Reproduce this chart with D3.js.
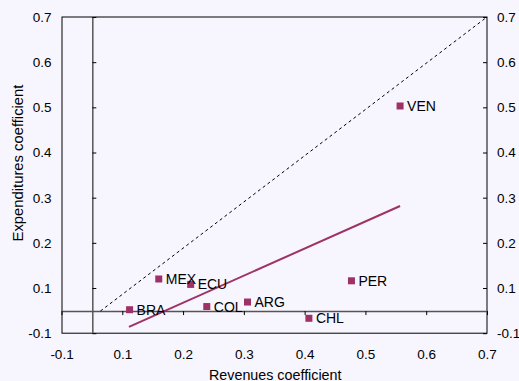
<!DOCTYPE html>
<html>
<head>
<meta charset="utf-8">
<script src="https://cdn.jsdelivr.net/npm/d3@7"></script>
<style>
  html, body { margin: 0; padding: 0; background: #f7f5fd; }
  svg { display: block; font-family: "Liberation Sans", Arial, sans-serif; }
</style>
</head>
<body>
<svg id="chart" width="519" height="381"></svg>
<script>
// ---- data ----
const countries = ["VEN", "BRA", "MEX", "ECU", "COL", "ARG", "CHL", "PER"];
const revenues = [0.557, 0.112, 0.160, 0.2125, 0.239, 0.306, 0.407, 0.477];
const expenditures = [0.503, 0.052, 0.120, 0.108, 0.059, 0.069, 0.033, 0.116];
const tickValues = [0, 0.1, 0.2, 0.3, 0.4, 0.5, 0.6, 0.7];
const tickLabels = ["-0.1", "0.1", "0.2", "0.3", "0.4", "0.5", "0.6", "0.7"];
const fitX = [0.111, 0.557];
const fitY = [0.014, 0.2816];
const diagX = [0.064, 0.7];
const diagY = [0.049, 0.7];
const crossX = 0.0507;
const crossY = 0.049;
const xTitle = "Revenues coefficient";
const yTitle = "Expenditures coefficient";

// ---- layout ----
const L = 61.5, R = 487, T = 17, B = 333.2;
const color = "#9e3266";
const svg = d3.select("#chart");
const x = d3.scaleLinear().domain([0, 0.7]).range([L, R]);
const y = d3.scaleLinear().domain([0, 0.7]).range([B, T]);
const fmt = (d, i) => tickLabels[i];

// frame
svg.append("rect").attr("x", 62).attr("y", T).attr("width", R - 62).attr("height", B - T)
  .attr("fill", "none").attr("stroke", "#000").attr("stroke-width", 1);

// labels axes (no ticks)
function styleLabels(g) {
  g.select(".domain").remove();
  g.selectAll("text").attr("font-size", 13.5).attr("fill", "#000")
    .attr("font-family", "'Liberation Sans', Arial, sans-serif");
}
svg.append("g").attr("transform", `translate(0,${B})`)
  .call(d3.axisBottom(x).tickValues(tickValues).tickFormat(fmt).tickSize(0).tickPadding(16))
  .call(styleLabels);
svg.append("g").attr("transform", `translate(${L},0)`)
  .call(d3.axisLeft(y).tickValues(tickValues).tickFormat(fmt).tickSize(0).tickPadding(10))
  .call(styleLabels);
svg.append("g").attr("transform", `translate(${R},0)`)
  .call(d3.axisRight(y).tickValues(tickValues).tickFormat(fmt).tickSize(0).tickPadding(10))
  .call(styleLabels);

// inner crossing axes with ticks
function styleInner(g, w) {
  g.select(".domain").attr("stroke", "#555").attr("stroke-width", w);
  g.selectAll(".tick line").attr("stroke", "#000");
  g.selectAll("text").remove();
}
svg.append("g").attr("transform", `translate(0,${y(crossY)})`)
  .call(d3.axisBottom(x).tickValues(tickValues).tickSize(4).tickSizeOuter(0))
  .call(g => styleInner(g, 1.5));
svg.append("g").attr("transform", `translate(${x(crossX)},0)`)
  .call(d3.axisRight(y).tickValues(tickValues).tickSize(4).tickSizeOuter(0))
  .call(g => styleInner(g, 1.5));
svg.append("g").attr("transform", `translate(${R},0)`)
  .call(d3.axisLeft(y).tickValues(tickValues).tickSize(4).tickSizeOuter(0))
  .call(g => { g.select(".domain").remove(); g.selectAll(".tick line").attr("stroke", "#000"); g.selectAll("text").remove(); });

// diagonal dashed line
svg.append("path")
  .datum(diagX.map((d, i) => [d, diagY[i]]))
  .attr("d", d3.line().x(d => x(d[0])).y(d => y(d[1])))
  .attr("fill", "none").attr("stroke", "#000").attr("stroke-width", 1)
  .attr("stroke-dasharray", "3,3");

// fit line
svg.append("path")
  .datum(fitX.map((d, i) => [d, fitY[i]]))
  .attr("d", d3.line().x(d => x(d[0])).y(d => y(d[1])))
  .attr("fill", "none").attr("stroke", color).attr("stroke-width", 2);

// markers
const pts = countries.map((c, i) => ({ c, xv: revenues[i], yv: expenditures[i] }));
svg.append("g").selectAll("rect").data(pts).join("rect")
  .attr("x", d => x(d.xv) - 3.5).attr("y", d => y(d.yv) - 3.5)
  .attr("width", 7).attr("height", 7).attr("fill", color);
svg.append("g").selectAll("text").data(pts).join("text")
  .attr("x", d => x(d.xv) + 7).attr("y", d => y(d.yv)).attr("dy", "0.36em")
  .attr("font-size", 14).attr("fill", "#000").text(d => d.c);

// titles
svg.append("text").attr("x", (L + R) / 2 + 1).attr("y", 379.5).attr("text-anchor", "middle")
  .attr("font-size", 14.3).text(xTitle);
svg.append("text").attr("transform", `translate(23,163) rotate(-90)`)
  .attr("text-anchor", "middle").attr("font-size", 14.8).text(yTitle);
</script>
</body>
</html>
